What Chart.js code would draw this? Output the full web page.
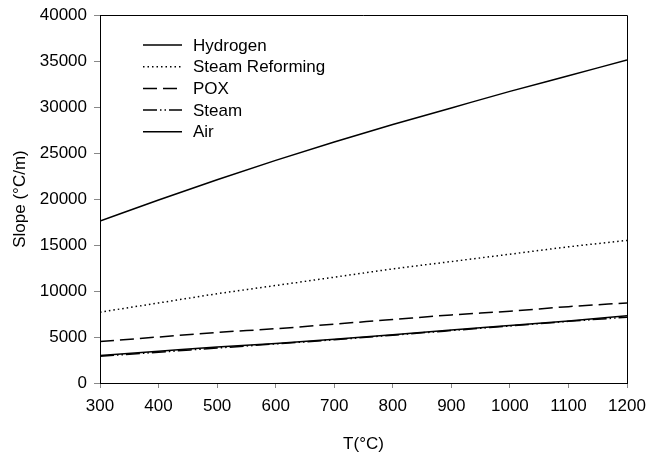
<!DOCTYPE html>
<html>
<head>
<meta charset="utf-8">
<script src="https://cdn.jsdelivr.net/npm/chart.js@4.4.1/dist/chart.umd.min.js"></script>
<style>
html,body{margin:0;padding:0;background:#fff;}
#wrap{width:646px;height:455px;}
</style>
</head>
<body>
<div id="wrap"><canvas id="c" width="646" height="455"></canvas></div>
<script>
const temps = [300, 400, 500, 600, 700, 800, 900, 1000, 1100, 1200];
const hydrogen = [17600, 19900, 22100, 24200, 26200, 28100, 29900, 31700, 33400, 35100];
const steamReforming = [7700, 8700, 9700, 10600, 11500, 12400, 13200, 14000, 14800, 15500];
const pox = [4500, 5000, 5500, 5900, 6400, 6900, 7400, 7800, 8300, 8700];
const steam = [2900, 3350, 3800, 4250, 4700, 5200, 5700, 6200, 6700, 7150];
const air = [3000, 3450, 3900, 4300, 4750, 5250, 5750, 6250, 6750, 7300];
const seriesNames = ["Hydrogen", "Steam Reforming", "POX", "Steam", "Air"];
const xTicks = [300, 400, 500, 600, 700, 800, 900, 1000, 1100, 1200];
const yTicks = [0, 5000, 10000, 15000, 20000, 25000, 30000, 35000, 40000];

const FONT = "'Liberation Sans', Arial, sans-serif";
const toPts = arr => temps.map((t, i) => ({x: t, y: arr[i]}));
const styles = [
  {dash: [], w: 1.5},
  {dash: [1.5, 3], w: 1.5},
  {dash: [14, 6], w: 1.5},
  {dash: [14, 3, 1.5, 3, 1.5, 3], w: 1.5},
  {dash: [], w: 1.5}
];
const seriesData = [hydrogen, steamReforming, pox, steam, air];

const datasets = seriesData.map((d, i) => ({
  label: seriesNames[i],
  data: toPts(d),
  borderColor: '#000',
  backgroundColor: '#000',
  borderWidth: styles[i].w,
  borderDash: styles[i].dash,
  pointRadius: 0,
  cubicInterpolationMode: 'monotone',
  fill: false
}));

const framePlugin = {
  id: 'frame',
  afterDraw(chart) {
    const {ctx, chartArea: a} = chart;
    ctx.save();
    ctx.strokeStyle = '#000';
    ctx.lineWidth = 1;
    ctx.beginPath();
    ctx.moveTo(a.left, a.top + 0.5);
    ctx.lineTo(a.right + 0.5, a.top + 0.5);
    ctx.lineTo(a.right + 0.5, a.bottom);
    ctx.stroke();
    ctx.restore();
  }
};

const legendPlugin = {
  id: 'customLegend',
  afterDraw(chart) {
    const ctx = chart.ctx;
    ctx.save();
    ctx.font = '17px ' + FONT;
    ctx.textBaseline = 'middle';
    ctx.fillStyle = '#000';
    const x0 = 143, x1 = 182, tx = 193, y0 = 45, dy = 21.7;
    chart.data.datasets.forEach((ds, i) => {
      const y = y0 + i * dy;
      ctx.strokeStyle = '#000';
      ctx.lineWidth = ds.borderWidth;
      ctx.setLineDash(ds.borderDash || []);
      ctx.beginPath();
      ctx.moveTo(x0, y);
      ctx.lineTo(x1, y);
      ctx.stroke();
      ctx.setLineDash([]);
      ctx.fillText(ds.label, tx, y + 1);
    });
    ctx.restore();
  }
};

new Chart(document.getElementById('c'), {
  type: 'line',
  data: {datasets},
  plugins: [framePlugin, legendPlugin],
  options: {
    responsive: false,
    animation: false,
    devicePixelRatio: 1,
    layout: {padding: {top: 15, right: 19, left: 0, bottom: 0}},
    plugins: {legend: {display: false}, tooltip: {enabled: false}},
    scales: {
      x: {
        type: 'linear',
        min: 300, max: 1200,
        afterBuildTicks: s => { s.ticks = xTicks.map(v => ({value: v})); },
        afterFit: s => { s.height = 72; s.paddingLeft = 0; s.paddingRight = 0; },
        border: {display: true, color: '#000', width: 1},
        grid: {drawOnChartArea: false, drawTicks: true, tickLength: 5, color: '#888'},
        ticks: {color: '#000', font: {family: FONT, size: 17}, padding: 8, maxRotation: 0, callback: v => String(v)},
        title: {display: true, text: 'T(°C)', color: '#000', font: {family: FONT, size: 17}, padding: {top: 14, bottom: 0}}
      },
      y: {
        min: 0, max: 40000,
        afterBuildTicks: s => { s.ticks = yTicks.map(v => ({value: v})); },
        afterFit: s => { s.width = 100; s.paddingTop = 0; s.paddingBottom = 0; },
        border: {display: true, color: '#000', width: 1},
        grid: {drawOnChartArea: false, drawTicks: true, tickLength: 6, color: '#888'},
        ticks: {color: '#000', font: {family: FONT, size: 17}, padding: 7, callback: v => String(v)},
        title: {display: true, text: 'Slope (°C/m)', color: '#000', font: {family: FONT, size: 17}, padding: {top: 10, bottom: 4}}
      }
    }
  }
});
</script>
</body>
</html>
